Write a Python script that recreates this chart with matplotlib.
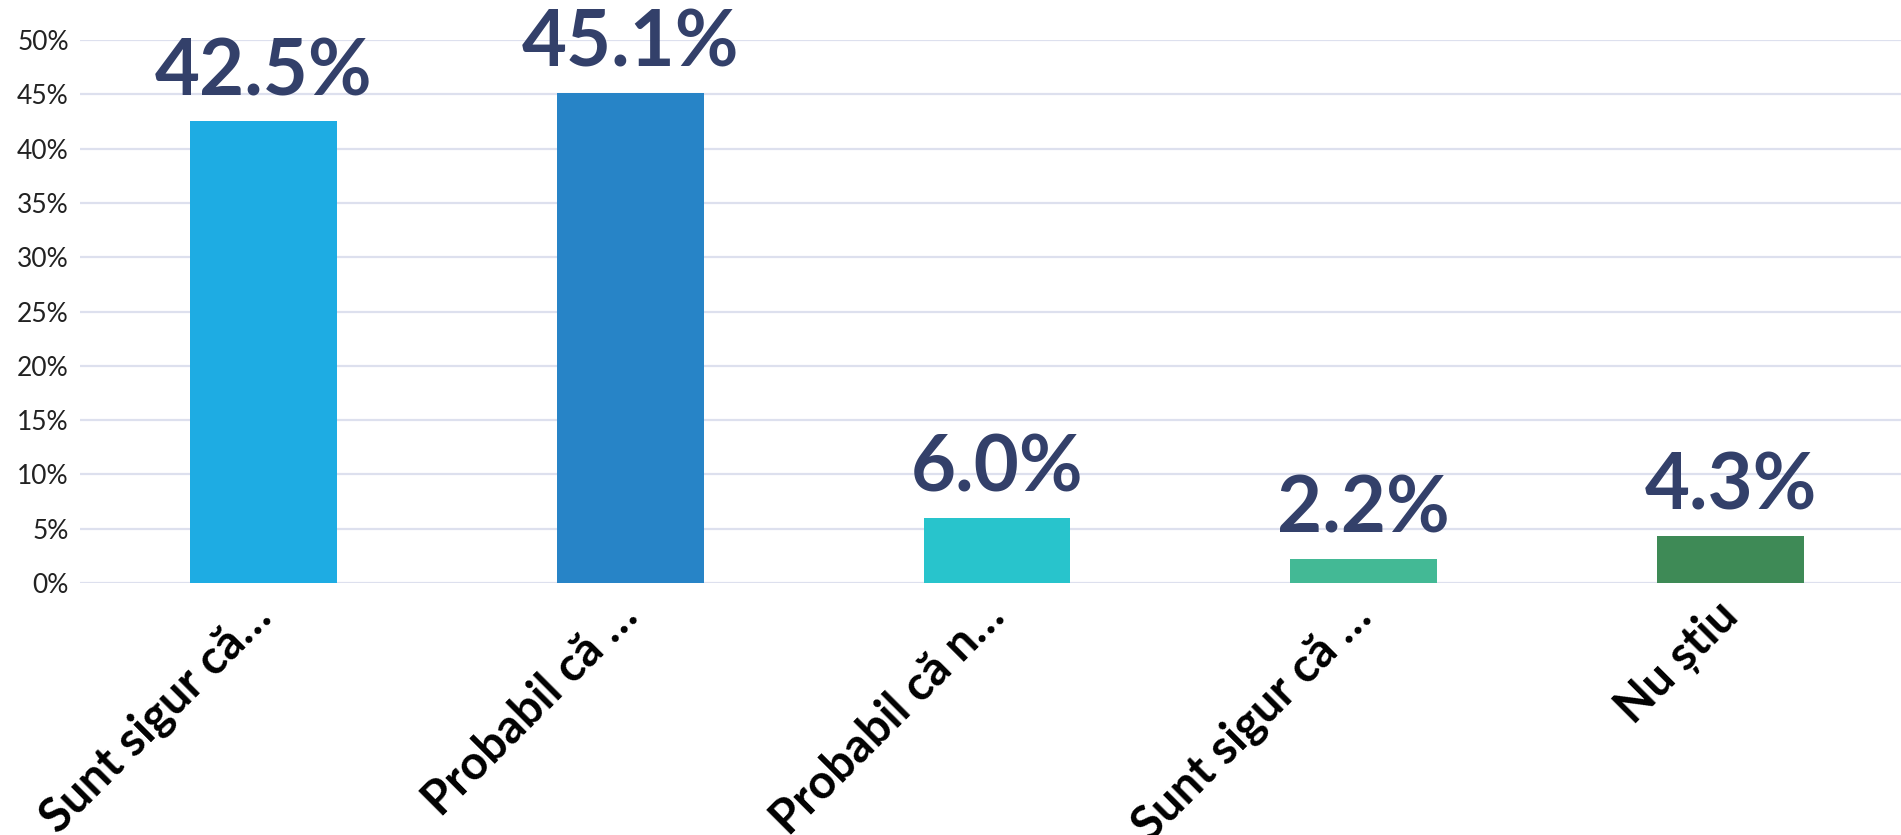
import numpy as np
import matplotlib.pyplot as plt
from matplotlib.ticker import PercentFormatter
from matplotlib.transforms import ScaledTranslation

# Umfrage-Ergebnisse
categories = ['Sunt sigur că…', 'Probabil că …', 'Probabil că n…', 'Sunt sigur că …', 'Nu știu']
values = [42.5, 45.1, 6.0, 2.2, 4.3]
colors = ['#1EACE3', '#2784C7', '#28C4CC', '#43B995', '#3E8A56']

plt.rcParams['font.family'] = ['Lato', 'DejaVu Sans']

fig = plt.figure(figsize=(19.01, 8.35), dpi=100)
# axes geht rechts etwas über den Rand hinaus (wie im Original abgeschnitten)
ax = fig.add_axes([80/1901, 252/835, 1834/1901, 543/835])

x = np.arange(len(categories))
ax.bar(x, values, width=0.4, color=colors, zorder=3)

for xi, v in zip(x, values):
    ax.annotate(f'{v:.1f}%', (xi, v), xytext=(0, 19), textcoords='offset points',
                ha='center', va='baseline', fontsize=56, fontweight='bold',
                color='#33406A')

ax.set_xlim(-0.5, len(categories) - 0.5)
ax.set_ylim(0, 50)
ax.set_yticks(np.arange(0, 51, 5))
ax.yaxis.set_major_formatter(PercentFormatter(decimals=0))
ax.grid(axis='y', color='#DDE0EE', linewidth=1.6, zorder=0)

ax.set_xticks(x)
ax.set_xticklabels(categories, rotation=45, ha='right', va='baseline', rotation_mode='anchor',
                   fontsize=34, fontweight='bold', color='#000000')
ax.tick_params(axis='x', length=0, pad=26)
ax.tick_params(axis='y', length=0, pad=8, labelsize=19, labelcolor='#222222')
# Beschriftung etwas nach rechts schieben
for lbl in ax.get_xticklabels():
    lbl.set_transform(lbl.get_transform() + ScaledTranslation(0.1, 0, fig.dpi_scale_trans))

for s in ax.spines.values():
    s.set_visible(False)

plt.savefig('out.png', dpi=100)
